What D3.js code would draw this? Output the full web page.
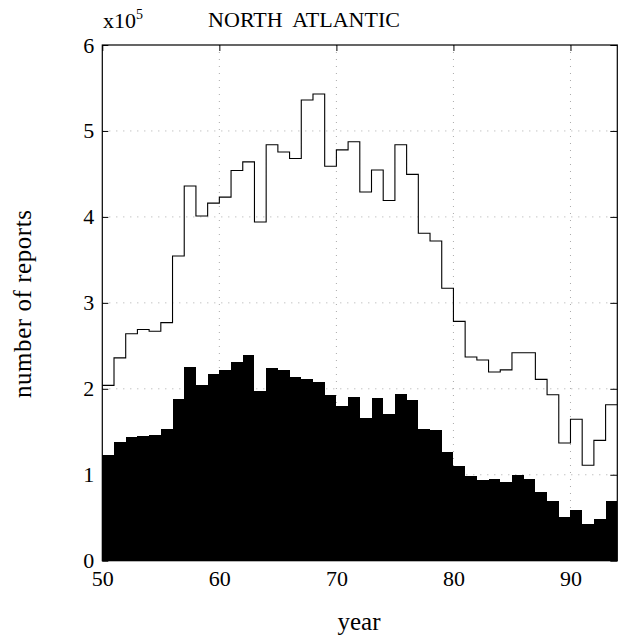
<!DOCTYPE html>
<html><head><meta charset="utf-8">
<script src="https://cdn.jsdelivr.net/npm/d3@7"></script>
<style>body{margin:0;background:#fff}svg{display:block}svg text{font-family:"Liberation Serif","Times New Roman",serif !important;fill:#000}</style>
</head><body><svg id="c" width="618" height="638"></svg>
<script>
const years = d3.range(50, 94);
const totalReports = [2.04,2.36,2.64,2.69,2.67,2.77,3.545,4.36,4.01,4.16,4.23,4.54,4.64,3.94,4.84,4.755,4.68,5.36,5.43,4.59,4.78,4.875,4.29,4.545,4.19,4.84,4.495,3.81,3.72,3.17,2.785,2.37,2.335,2.195,2.22,2.42,2.42,2.11,1.93,1.37,1.645,1.11,1.40,1.815];
const subsetReports = [1.23,1.377,1.443,1.45,1.466,1.53,1.878,2.257,2.048,2.168,2.215,2.308,2.39,1.98,2.238,2.219,2.137,2.118,2.083,1.924,1.796,1.90,1.664,1.889,1.703,1.94,1.87,1.532,1.524,1.265,1.105,0.989,0.935,0.947,0.916,1.00,0.947,0.80,0.70,0.505,0.586,0.427,0.48,0.695];
const xTicks = [50,60,70,80,90];
const yTicks = [0,1,2,3,4,5,6];

const L=102.3, R=617.3, T=45, B=560.7;
const x = d3.scaleLinear().domain([50,94]).range([L,R]);
const y = d3.scaleLinear().domain([0,6]).range([B,T]);
const svg = d3.select("#c");
const SERIF = '"Liberation Serif","Times New Roman",serif';

// grid
const g = svg.append("g");
g.selectAll(".gx").data(xTicks.slice(1)).enter().append("line")
 .attr("x1",d=>x(d)).attr("x2",d=>x(d)).attr("y1",T).attr("y2",B)
 .attr("stroke","#aaa").attr("stroke-width",1).attr("stroke-dasharray","1,6");
g.selectAll(".gy").data(yTicks.slice(1,-1)).enter().append("line")
 .attr("y1",d=>y(d)).attr("y2",d=>y(d)).attr("x1",L).attr("x2",R)
 .attr("stroke","#aaa").attr("stroke-width",1).attr("stroke-dasharray","1,6");

// filled histogram
const sub = years.map((yr,i)=>[yr,subsetReports[i]]).concat([[94,subsetReports[subsetReports.length-1]]]);
svg.append("path").datum(sub)
 .attr("d", d3.area().x(d=>x(d[0])).y0(y(0)).y1(d=>y(d[1])).curve(d3.curveStepAfter))
 .attr("fill","#000").attr("shape-rendering","crispEdges");

// outline histogram
const tot = years.map((yr,i)=>[yr,totalReports[i]]).concat([[94,totalReports[totalReports.length-1]]]);
svg.append("path").datum(tot)
 .attr("d", d3.line().x(d=>x(d[0])).y(d=>y(d[1])).curve(d3.curveStepAfter))
 .attr("fill","none").attr("stroke","#000").attr("stroke-width",1.1);

// frame
svg.append("rect").attr("x",L).attr("y",T).attr("width",R-L).attr("height",B-T)
 .attr("fill","none").attr("stroke","#000").attr("stroke-width",1.2);

// axes (inside ticks)
const ax = svg.append("g").attr("transform",`translate(0,${B})`)
 .call(d3.axisBottom(x).tickValues(xTicks).tickSize(-6).tickPadding(10).tickFormat(d3.format("d")));
const axT = svg.append("g").attr("transform",`translate(0,${T})`)
 .call(d3.axisTop(x).tickValues(xTicks).tickSize(-6).tickFormat(""));
const ay = svg.append("g").attr("transform",`translate(${L},0)`)
 .call(d3.axisLeft(y).tickValues(yTicks).tickSize(-6).tickPadding(8).tickFormat(d3.format("d")));
const ayR = svg.append("g").attr("transform",`translate(${R},0)`)
 .call(d3.axisRight(y).tickValues(yTicks).tickSize(-7).tickFormat(""));
[ax,axT,ay,ayR].forEach(a=>{a.attr("font-family",SERIF);a.select(".domain").remove();a.selectAll("line").attr("stroke","#000");});
ax.selectAll("text").style("font-size","22px").style("font-family",SERIF).attr("fill","#000");
ay.selectAll("text").style("font-size","22px").style("font-family",SERIF).attr("fill","#000").attr("dy","0.32em");

// titles
svg.append("text").attr("x",304).attr("y",27).attr("text-anchor","middle").style("font-size","22px")
 .style("white-space","pre").text("NORTH  ATLANTIC");
const ex = svg.append("text").attr("x",103).attr("y",28).style("font-size","22px");
ex.append("tspan").text("x10");
ex.append("tspan").style("font-size","14px").attr("dy",-9).text("5");
svg.append("text").attr("x",359).attr("y",630).attr("text-anchor","middle").style("font-size","25px").text("year");
svg.append("text").attr("transform","translate(31,304) rotate(-90)").attr("text-anchor","middle")
 .style("font-size","25px").attr("textLength",188).attr("lengthAdjust","spacing").text("number of reports");
</script></body></html>
